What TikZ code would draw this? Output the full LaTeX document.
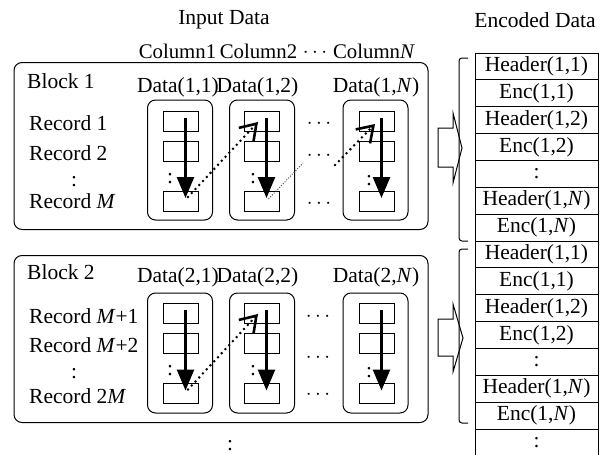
\documentclass[tikz,border=0pt]{standalone}
\usepackage{fontspec}
\setmainfont{Liberation Serif}
\usetikzlibrary{arrows.meta,calc}
\begin{document}
\begin{tikzpicture}[x=1pt,y=-1pt,
  txt/.style={inner sep=0pt, font=\fontsize{21.5}{25}\selectfont},
  hdr/.style={inner sep=0pt, font=\fontsize{20.8}{25}\selectfont},
  blockbox/.style={draw, rounded corners=8pt, line width=1pt, minimum width=414pt, minimum height=167pt, inner sep=0pt, outer sep=0pt},
  colbox/.style={draw, rounded corners=8pt, line width=1pt, minimum width=65pt, minimum height=120pt, inner sep=0pt},
  recbox/.style={draw, line width=1pt, minimum width=35pt, minimum height=20pt, inner sep=0pt},
  cell/.style={draw, line width=1pt, minimum width=123pt, minimum height=26.857pt, inner sep=0pt, outer sep=0pt, font=\fontsize{21.5}{25}\selectfont},
  bigarrow/.style={line width=2.6pt, -{Triangle[length=21pt,width=17pt]}},
  dotarrow/.style={line width=2.8pt, line cap=round, dash pattern=on 0pt off 5.5pt, -{Straight Barb[length=15pt,width=20pt,line width=2.6pt]}},
  thindots/.style={line width=1pt, dash pattern=on 1pt off 1.6pt, black!70},
  hollow/.style={draw, line width=1pt},
  bracketline/.style={draw, line width=1pt, rounded corners=3pt},
]
\useasboundingbox (0,0) rectangle (606,455);

% titles
\node[txt] (tin) at (224,20) {Input Data};
\node[txt] (tenc) at (535,20) {Encoded Data};
\node[hdr] (col1) at (177.5,51) {Column1};
\node[hdr] (col2) at (258.5,51) {Column2};
\node[hdr] (colh) at (315,53) {$\cdots$};
\node[hdr] (colN) at (374,51) {Column\textit{N}};

% blocks
\node[blockbox] (b1) at (221,146) {};
\node[blockbox] (b2) at (221,339) {};
\node[txt, anchor=west] (b1l) at (27,81) {Block 1};
\node[txt, anchor=west] (b2l) at (27,272.5) {Block 2};

% record labels
\node[txt, anchor=west] (rl1) at (29,123.5) {Record 1};
\node[txt, anchor=west] (rl2) at (29,153) {Record 2};
\node[txt] (rlc) at (74,182) {:};
\node[txt, anchor=west] (rlM) at (29,201.5) {Record \textit{M}};
\node[txt, anchor=west] (sl1) at (29,316) {Record \textit{M}+1};
\node[txt, anchor=west] (sl2) at (29,345) {Record \textit{M}+2};
\node[txt] (slc) at (74,374) {:};
\node[txt, anchor=west] (slM) at (29,396.5) {Record 2\textit{M}};

% data labels
\node[txt] (d11) at (178,87) {Data(1,1)};
\node[txt] (d12) at (257.5,87) {Data(1,2)};
\node[txt] (d1N) at (376,87) {Data(1,\textit{N})};
\node[txt] (d21) at (178,277.5) {Data(2,1)};
\node[txt] (d22) at (257.5,277.5) {Data(2,2)};
\node[txt] (d2N) at (376,277.5) {Data(2,\textit{N})};

% column boxes
\node[colbox] (c11) at (180,160) {};
\node[colbox] (c12) at (262,160) {};
\node[colbox] (c1N) at (375.5,160) {};
\node[colbox] (c21) at (180,353) {};
\node[colbox] (c22) at (262,353) {};
\node[colbox] (c2N) at (375.5,353) {};

% record boxes
\foreach \nm/\x in {1/180.5, 2/261.5, N/376.5}{
  \node[recbox] (r\nm1) at (\x,121) {};
  \node[recbox] (r\nm2) at (\x,151) {};
  \node[recbox] (r\nm3) at (\x,201) {};
  \node[recbox] (s\nm1) at (\x,313) {};
  \node[recbox] (s\nm2) at (\x,343) {};
  \node[recbox] (s\nm3) at (\x,393.5) {};
}

% vertical dots inside columns
\node[txt] (v11) at (170,179) {:};
\node[txt] (v12) at (253,179) {:};
\node[txt] (v1N) at (369,181) {:};
\node[txt] (v21) at (170,371) {:};
\node[txt] (v22) at (253,371) {:};
\node[txt] (v2N) at (369,373) {:};

% horizontal ellipses between columns
\node[txt] (e11) at (319,124) {$\cdots$};
\node[txt] (e12) at (319,156) {$\cdots$};
\node[txt] (e13) at (319,204) {$\cdots$};
\node[txt] (e21) at (318,317) {$\cdots$};
\node[txt] (e22) at (318,358) {$\cdots$};
\node[txt] (e23) at (318,395) {$\cdots$};

% bottom ellipsis
\node[txt] (vb) at (230,446) {:};

% thick arrows
\foreach \nm in {1,2,N}{
  \draw[bigarrow] ([xshift=5pt,yshift=3pt]r\nm1.center) -- ([xshift=5pt,yshift=3pt]r\nm3.center);
  \draw[bigarrow] ([xshift=5pt,yshift=3pt]s\nm1.center) -- ([xshift=5pt,yshift=3pt]s\nm3.center);
}

% dotted arrows
\draw[dotarrow] ($(r13.center)+(7.5,-4)$) -- ($(r21.center)+(-3.5,1)$);
\coordinate (g1) at (303,163);
\coordinate (g2) at (335,165);
\draw[thindots] ($(r23.center)+(7,-2)$) -- (g1);
\draw[dotarrow] (g2) -- ($(rN1.center)+(-1.5,3)$);
\draw[dotarrow] ($(s13.center)+(7.5,-4)$) -- ($(s21.center)+(-3.5,1)$);

% hollow arrows
\draw[hollow] (438,128) -- (453,128) -- (453,113) -- (462,148) -- (453,183) -- (453,167) -- (438,167) -- cycle;
\draw[hollow] (438,319) -- (453,319) -- (453,304) -- (463,338) -- (453,372) -- (453,356) -- (438,356) -- cycle;

% brackets
\draw[bracketline] (468,58) -- (459,58) -- (459,241) -- (468,241);
\draw[bracketline] (468,249) -- (459,249) -- (459,423) -- (468,423);

% encoded table
\node[cell] (t0) at (536.5,66.43) {Header(1,1)};
\node[cell] (t1) at (536.5,93.29) {Enc(1,1)};
\node[cell] (t2) at (536.5,120.14) {Header(1,2)};
\node[cell] (t3) at (536.5,147.0) {Enc(1,2)};
\node[cell] (t4) at (536.5,173.86) {:};
\node[cell] (t5) at (536.5,200.71) {Header(1,\textit{N})};
\node[cell] (t6) at (536.5,227.57) {Enc(1,\textit{N})};
\node[cell] (t7) at (536.5,254.43) {Header(1,1)};
\node[cell] (t8) at (536.5,281.29) {Enc(1,1)};
\node[cell] (t9) at (536.5,308.14) {Header(1,2)};
\node[cell] (t10) at (536.5,335.0) {Enc(1,2)};
\node[cell] (t11) at (536.5,361.86) {:};
\node[cell] (t12) at (536.5,388.71) {Header(1,\textit{N})};
\node[cell] (t13) at (536.5,415.57) {Enc(1,\textit{N})};
\node[txt] (t14) at (536.5,442.4) {:};
\draw[line width=1pt] (t13.south west) -- ++(0,30);
\draw[line width=1pt] (t13.south east) -- ++(0,30);
\end{tikzpicture}
\end{document}
